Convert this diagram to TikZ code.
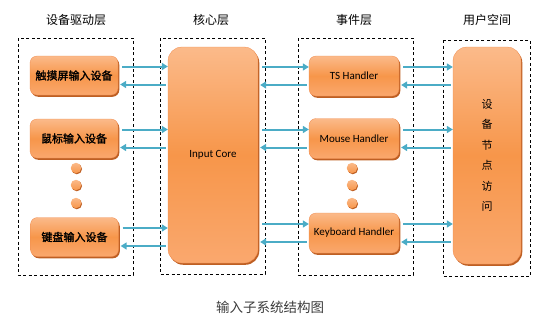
\documentclass[tikz,border=0pt]{standalone}
\usepackage{fontspec}
\usepackage{xcolor}
\usetikzlibrary{arrows.meta, calc, shadows}
\newfontfamily\cjk{Noto Sans CJK SC}
\newfontfamily\cjkbold[FakeBold=1.6]{Noto Sans CJK SC}
\newfontfamily\latin{Carlito}
\definecolor{boxtop}{RGB}{251,186,138}
\definecolor{boxmid}{RGB}{247,150,74}
\definecolor{boxbot}{RGB}{250,168,110}
\definecolor{boxedge}{RGB}{240,140,80}
\definecolor{boxshadow}{RGB}{190,95,35}
\definecolor{linkblue}{RGB}{75,172,198}
\definecolor{captiongray}{RGB}{60,60,60}

\tikzset{
orangebox/.style={draw=boxedge, line width=0.3pt, rounded corners=#1,
  top color=boxtop, bottom color=boxbot, middle color=boxmid,
  drop shadow={shadow xshift=1.3pt, shadow yshift=-1.8pt, fill=boxshadow, opacity=1},
  inner sep=0pt, align=center},
orangebox/.default=7pt,
devbox/.style={orangebox, minimum width=88pt, minimum height=39pt, font=\cjkbold\fontsize{11}{13}\selectfont},
handbox/.style={orangebox, minimum width=90pt, minimum height=40pt, font=\latin\fontsize{11}{13}\selectfont},
frame/.style={draw, dashed, line width=0.6pt, dash pattern=on 3pt off 2.5pt},
head/.style={font=\cjk\fontsize{12}{14}\selectfont},
link/.style={draw=linkblue, line width=2pt, -{Triangle[length=6pt,width=7pt]}},
moredot/.style={circle, inner sep=0pt, minimum size=10.5pt, top color=boxtop, bottom color=boxmid,
  drop shadow={shadow xshift=0.8pt, shadow yshift=-1pt, fill=boxshadow, opacity=1}}
}

\begin{document}
\begin{tikzpicture}[x=1pt, y=-1pt]
\useasboundingbox (0,0) rectangle (554,335);

% column titles
\node[head] (hdrv) at (76,20) {设备驱动层};
\node[head] (hcore) at (211,20) {核心层};
\node[head] (hevt) at (354,20) {事件层};
\node[head] (husr) at (487,20) {用户空间};

% dashed layers
\draw[frame] (18,38) rectangle (133,275);
\draw[frame] (160,38) rectangle (265,274);
\draw[frame] (298,38) rectangle (413,275);
\draw[frame] (443,40) rectangle (530,276);

% device drivers
\node[devbox] (t1) at (74,75.5) {触摸屏输入设备};
\node[devbox] (m1) at (74,138.5) {鼠标输入设备};
\node[devbox] (k1) at (74.5,237) {键盘输入设备};

% core
\node[orangebox=14pt, minimum width=90pt, minimum height=216pt,
  font=\latin\fontsize{11}{13}\selectfont] (core) at (213,155) {Input Core};

% handlers
\node[handbox] (ts) at (354,76) {TS Handler};
\node[handbox] (ms) at (354,138.5) {Mouse Handler};
\node[handbox] (kh) at (354,233) {Keyboard Handler};

% user space
\node[orangebox=14pt, minimum width=68pt, minimum height=217pt,
  font=\cjk\fontsize{11}{20.5}\selectfont] (usr) at (487,155.5) {设\\备\\节\\点\\访\\问};

% more devices / handlers
\foreach \i/\y in {1/168,2/185,3/203}{
\node[moredot] (dd\i) at (76,\y) {};
\node[moredot] (de\i) at (352,\y) {};
}

% links, one pair per row
\foreach \a/\b/\r in {t1/core/t1, m1/core/m1, k1/core/k1,
                      core/ts/ts, core/ms/ms, core/kh/kh,
                      ts/usr/ts, ms/usr/ms, kh/usr/kh}{
\draw[link] ($(\a.east |- \r.center)+(4,-9)$) -- ($(\b.west |- \r.center)+(0,-9)$);
\draw[link] ($(\b.west |- \r.center)+(-2,9)$) -- ($(\a.east |- \r.center)+(2,9)$);
}

\node[font=\cjk\fontsize{13.5}{15}\selectfont, text=captiongray] (cap) at (270,307) {输入子系统结构图};

\end{tikzpicture}
\end{document}
